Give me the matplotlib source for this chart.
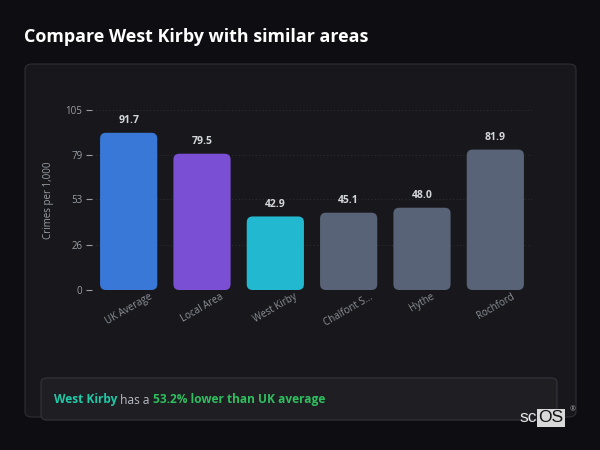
import matplotlib
matplotlib.use("Agg")
import matplotlib.pyplot as plt
from matplotlib.patches import FancyBboxPatch

plt.rcParams["font.family"] = ["Open Sans", "DejaVu Sans"]

# ── Data ──────────────────────────────────────────────────────────────────────
areas = ["UK Average", "Local Area", "West Kirby", "Chalfont S...", "Hythe", "Rochford"]
rates = [91.7, 79.5, 42.9, 45.1, 48.0, 81.9]
bar_colors = ["#3a78d8", "#7a4fd4", "#22b8cf", "#586377", "#586377", "#586377"]
y_ticks = [0, 26, 53, 79, 105]

BG = "#0e0e12"
PANEL = "#18181c"
GRID = "#3a3a42"
TICK = "#9a9ea6"

fig = plt.figure(figsize=(6, 4.5), dpi=100, facecolor=BG)

# title
fig.text(24 / 600, 1 - 37 / 450, "Compare West Kirby with similar areas",
         color="white", fontsize=12.9, fontweight="bold", va="center", ha="left")

# panel behind chart
panel = FancyBboxPatch((25 / 600, 1 - 417 / 450), 551 / 600, 353 / 450,
                       boxstyle="round,pad=0,rounding_size=0.012",
                       transform=fig.transFigure, facecolor=PANEL,
                       edgecolor="#2e2e35", linewidth=0.8, zorder=-2)
fig.patches.append(panel)

# ── Bars ──────────────────────────────────────────────────────────────────────
ax = fig.add_axes([92 / 600, 1 - 290 / 450, 440 / 600, 180 / 450])
ax.set_facecolor("none")
ax.set_xlim(-0.5, len(areas) - 0.5)
ax.set_ylim(0, 105)

bars = ax.bar(range(len(areas)), rates, width=0.78, color=bar_colors)
# swap square bars for rounded ones
px_x = 440 / 6      # pixels per x unit
px_y = 180 / 105    # pixels per y unit
aspect = px_x / px_y
for b in bars:
    b.set_visible(False)
    rb = FancyBboxPatch((b.get_x(), b.get_y()), b.get_width(), b.get_height(),
                        boxstyle="round,pad=0,rounding_size=0.08",
                        mutation_aspect=aspect,
                        facecolor=b.get_facecolor(), edgecolor="none", zorder=3)
    ax.add_patch(rb)

for i, v in enumerate(rates):
    ax.annotate(f"{v:.1f}", (i, v), xytext=(0, 5), textcoords="offset points",
                ha="center", va="bottom", color="#d4d7dc", fontsize=7.5,
                fontweight="bold")

ax.set_yticks(y_ticks)
ax.set_yticklabels([str(t) for t in y_ticks])
ax.set_xticks(range(len(areas)))
ax.set_xticklabels(areas, rotation=30, ha="center")
ax.tick_params(axis="y", colors=TICK, labelsize=7, length=4, width=0.8, pad=3)
ax.tick_params(axis="x", colors=TICK, labelsize=7, length=0, pad=1)
for lbl in ax.get_xticklabels():
    lbl.set_color("#8c9098")
ax.grid(axis="y", color=GRID, linestyle=(0, (1, 2.5)), linewidth=0.7, alpha=0.7)
ax.set_axisbelow(True)
for s in ax.spines.values():
    s.set_visible(False)
ax.set_ylabel("Crimes per 1,000", color=TICK, fontsize=7, labelpad=8)

# ── Summary box ───────────────────────────────────────────────────────────────
info = FancyBboxPatch((41 / 600, 1 - 420 / 450), 516 / 600, 42 / 450,
                      boxstyle="round,pad=0,rounding_size=0.01",
                      transform=fig.transFigure, facecolor="#1e1e23",
                      edgecolor="#34343b", linewidth=0.8, zorder=-1)
fig.patches.append(info)

t1 = fig.text(54 / 600, 1 - 400 / 450, "West Kirby", color="#20c9a6",
              fontsize=8.6, fontweight="bold", va="center", ha="left")
t2 = fig.text(0, 0, " has a ", color="#b8bcc3", fontsize=8.6, va="center", ha="left")
t3 = fig.text(0, 0, "53.2% lower than UK average", color="#2fbf5f",
              fontsize=8.6, fontweight="bold", va="center", ha="left")
fig.canvas.draw()
r = fig.canvas.get_renderer()
inv = fig.transFigure.inverted()
x_end = inv.transform(t1.get_window_extent(r))[1][0]
t2.set_position((x_end, 1 - 400 / 450))
fig.canvas.draw()
x_end = inv.transform(t2.get_window_extent(r))[1][0]
t3.set_position((x_end, 1 - 400 / 450))

# ── Logo ──────────────────────────────────────────────────────────────────────
fig.text(537 / 600, 1 - 418 / 450, "sc", color="#e8e8e8", fontsize=12.5,
         ha="right", va="center", family="Liberation Sans")
fig.text(538 / 600, 1 - 418 / 450, "OS", color="#111111", fontsize=12.5,
         ha="left", va="center", family="Liberation Sans",
         bbox=dict(boxstyle="square,pad=0.08", facecolor="#d8d8d8", edgecolor="none"))
fig.text(570 / 600, 1 - 410 / 450, "®", color="#aaaaaa", fontsize=5,
         ha="left", va="center")

plt.savefig("out.png", dpi=100, facecolor=BG)
print("Saved: out.png")
